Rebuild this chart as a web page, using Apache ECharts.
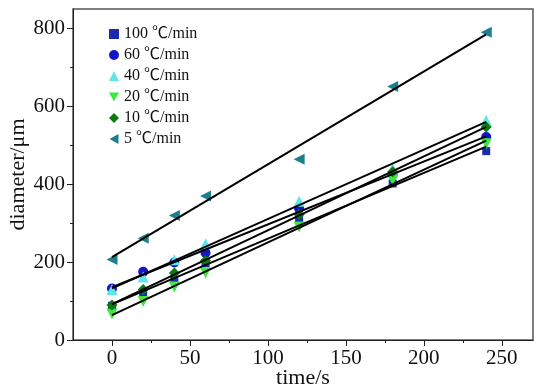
<!DOCTYPE html>
<html>
<head>
<meta charset="utf-8">
<script src="https://cdn.jsdelivr.net/npm/echarts@6/dist/echarts.min.js"></script>
<style>
  html, body { margin: 0; padding: 0; background: #fff; }
  #chart { width: 534px; height: 391px; }
</style>
</head>
<body>
<div id="chart"></div>
<script>
// sampling times (s)
const times = [0, 20, 40, 60, 120, 180, 240];

// diameters (um) per cooling rate
const rate100 = [88, 120, 155, 197, 308, 402, 485];
const rate60 = [132, 175, 199, 224, 338, 425, 521];
const rate40 = [130, 162, 206, 247, 356, 440, 564];
const rate20 = [67, 99, 136, 172, 290, 411, 504];
const rate10 = [90, 130, 172, 204, 322, 432, 547];
const rate5 = [207, 261, 320, 370, 464, 651, 790];

const xMajorTicks = [0, 50, 100, 150, 200, 250];
const xMinorTicks = [25, 75, 125, 175, 225];
const yMajorTicks = [0, 200, 400, 600, 800];
const yMinorTicks = [100, 300, 500, 700];

const FONT = '"Liberation Serif", "Noto Sans CJK SC", serif';

const DOWN_TRI = 'path://M0,0L10,0L5,9Z';
const LEFT_TRI = 'path://M9,0L9,10L0,5Z';

const groups = [
  { name: '100 ℃/min', data: rate100, color: '#1b2bb0', symbol: 'rect', size: 8, icon: 'rect' },
  { name: '60 ℃/min', data: rate60, color: '#1414c8', symbol: 'circle', size: 10, icon: 'circle' },
  { name: '40 ℃/min', data: rate40, color: '#5fe6ec', symbol: 'triangle', size: 11, icon: 'triangle' },
  { name: '20 ℃/min', data: rate20, color: '#3be83b', symbol: DOWN_TRI, size: 11, icon: DOWN_TRI },
  { name: '10 ℃/min', data: rate10, color: '#0d7a10', symbol: 'diamond', size: 11, icon: 'diamond' },
  { name: '5 ℃/min', data: rate5, color: '#1d7f8c', symbol: LEFT_TRI, size: 11, icon: LEFT_TRI },
];

// least-squares line through each group's points
function linearFit(xs, ys) {
  const n = xs.length;
  const mx = xs.reduce((a, b) => a + b, 0) / n;
  const my = ys.reduce((a, b) => a + b, 0) / n;
  let sxy = 0, sxx = 0;
  for (let i = 0; i < n; i++) {
    sxy += (xs[i] - mx) * (ys[i] - my);
    sxx += (xs[i] - mx) * (xs[i] - mx);
  }
  const k = sxy / sxx;
  const b = my - k * mx;
  const x0 = xs[0], x1 = xs[n - 1];
  return [[x0, k * x0 + b], [x1, k * x1 + b]];
}

const scatterSeries = groups.map(g => ({
  name: g.name,
  type: 'scatter',
  xAxisIndex: 0,
  yAxisIndex: 0,
  data: times.map((t, i) => [t, g.data[i]]),
  symbol: g.symbol,
  symbolSize: g.size,
  itemStyle: { color: g.color, opacity: 1 },
  z: 2,
}));

const fitSeries = groups.map(g => ({
  name: g.name + ' fit',
  type: 'line',
  xAxisIndex: 0,
  yAxisIndex: 0,
  data: linearFit(times, g.data),
  symbol: 'none',
  lineStyle: { color: '#000', width: 2 },
  z: 3,
  silent: true,
}));

const chart = echarts.init(document.getElementById('chart'));

const axisLine = { show: true, onZero: false, lineStyle: { color: '#222', width: 1 } };
const tickLabel = { fontFamily: FONT, fontSize: 21, color: '#111' };
const nameStyle = { fontFamily: FONT, fontSize: 22, color: '#111' };

chart.setOption({
  animation: false,
  backgroundColor: '#fff',
  grid: {
    left: 73, right: 1, top: 9, bottom: 51,
    outerBoundsMode: 'none',
    containLabel: false,
    show: true, borderColor: '#555', borderWidth: 1.5,
  },
  legend: {
    data: groups.map(g => ({ name: g.name, icon: g.icon })),
    orient: 'vertical',
    left: 104,
    top: 21,
    itemWidth: 10,
    itemHeight: 10,
    itemGap: 5,
    textStyle: { fontFamily: FONT, fontSize: 16, color: '#111', lineHeight: 16 },
  },
  xAxis: [
    {
      type: 'value',
      min: -25,
      max: 270,
      position: 'bottom',
      name: 'time/s',
      nameLocation: 'middle',
      nameGap: 27,
      nameMoveOverlap: false,
      nameTextStyle: nameStyle,
      axisLine: axisLine,
      axisTick: { show: true, inside: false, length: 6, customValues: xMajorTicks, lineStyle: { color: '#222' } },
      axisLabel: Object.assign({ customValues: xMajorTicks, margin: 8 }, tickLabel),
      splitLine: { show: false },
    },
    {
      type: 'value',
      min: -25,
      max: 270,
      position: 'bottom',
      axisLine: { show: false, onZero: false },
      axisTick: { show: true, inside: false, length: 3, customValues: xMinorTicks, lineStyle: { color: '#222' } },
      axisLabel: { show: false },
      splitLine: { show: false },
    },
  ],
  yAxis: [
    {
      type: 'value',
      min: 0,
      max: 850,
      position: 'left',
      name: 'diameter/μm',
      nameLocation: 'middle',
      nameGap: 44,
      nameMoveOverlap: false,
      nameTextStyle: nameStyle,
      axisLine: axisLine,
      axisTick: { show: true, inside: false, length: 6, customValues: yMajorTicks, lineStyle: { color: '#222' } },
      axisLabel: Object.assign({ customValues: yMajorTicks, margin: 8 }, tickLabel),
      splitLine: { show: false },
    },
    {
      type: 'value',
      min: 0,
      max: 850,
      position: 'left',
      axisLine: { show: false, onZero: false },
      axisTick: { show: true, inside: false, length: 3, customValues: yMinorTicks, lineStyle: { color: '#222' } },
      axisLabel: { show: false },
      splitLine: { show: false },
    },
  ],
  series: [...scatterSeries, ...fitSeries],
});
</script>
</body>
</html>
